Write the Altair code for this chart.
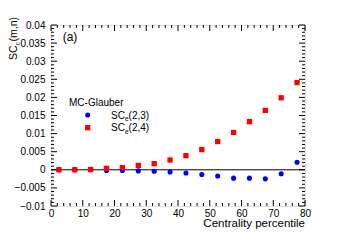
import altair as alt
import pandas as pd

# ---- data ----
cent = [2.5, 7.5, 12.5, 17.5, 22.5, 27.5, 32.5, 37.5, 42.5, 47.5, 52.5, 57.5, 62.5, 67.5, 72.5, 77.5]
sc23 = [0.0, 0.0, 0.0, -0.0002, -0.0002, -0.0003, -0.0004, -0.0006, -0.0009, -0.0013,
        -0.0017, -0.0023, -0.0023, -0.0025, -0.0011, 0.0021]
sc24 = [0.0, 0.0, 0.0001, 0.0004, 0.0006, 0.0012, 0.0017, 0.0027, 0.0039, 0.0056,
        0.0078, 0.0103, 0.0133, 0.0164, 0.0199, 0.0241]

x_major = [0, 10, 20, 30, 40, 50, 60, 70, 80]
x_minor = [v for v in range(0, 81, 2) if v % 10 != 0]
y_major = [-0.01, -0.005, 0.0, 0.005, 0.01, 0.015, 0.02, 0.025, 0.03, 0.035, 0.04]
y_minor = [round(i * 0.001, 3) for i in range(-10, 41) if i % 5 != 0]

W, H = 254, 181
FONT = "Liberation Sans"
BLUE = "#0000ff"
RED = "#ff0000"

xscale = alt.Scale(domain=[0, 80], nice=False, zero=False)
yscale = alt.Scale(domain=[-0.01, 0.04], nice=False, zero=False)

XAXIS = alt.Axis(values=x_major, ticks=False, domain=False, grid=False, title=None,
                 labelFontSize=10, labelPadding=2, labelFlush=False, labelColor="black",
                 labelFont=FONT)
YAXIS = alt.Axis(values=y_major, format=".3~f", ticks=False, domain=False, grid=False,
                 title=None, labelFontSize=10, labelPadding=6, labelFlush=False,
                 labelColor="black", labelBaseline="middle", labelFont=FONT)


def X(field):
    return alt.X(field, scale=xscale, axis=XAXIS)


def Y(field):
    return alt.Y(field, scale=yscale, axis=YAXIS)


df = pd.DataFrame({
    "cent": cent * 2,
    "val": sc23 + sc24,
    "series": ["SC(2,3)"] * len(cent) + ["SC(2,4)"] * len(cent),
})

zero_line = alt.Chart(pd.DataFrame({"val": [0.0]})).mark_rule(color="black", strokeWidth=1).encode(
    y=Y("val:Q")
)

pts23 = alt.Chart(df[df.series == "SC(2,3)"]).mark_point(
    shape="circle", filled=True, color=BLUE, size=26, opacity=1
).encode(x=X("cent:Q"), y=Y("val:Q"))

pts24 = alt.Chart(df[df.series == "SC(2,4)"]).mark_point(
    shape="square", filled=True, color=RED, size=28, opacity=1
).encode(x=X("cent:Q"), y=Y("val:Q"))


def xticks(vals, length):
    d = pd.DataFrame({"cent": vals})
    bot = alt.Chart(d).mark_rule(color="black", strokeWidth=1).encode(
        x=X("cent:Q"), y=alt.value(H), y2=alt.value(H - length))
    top = alt.Chart(d).mark_rule(color="black", strokeWidth=1).encode(
        x=X("cent:Q"), y=alt.value(0), y2=alt.value(length))
    return [bot, top]


def yticks(vals, length):
    d = pd.DataFrame({"val": vals})
    left = alt.Chart(d).mark_rule(color="black", strokeWidth=1).encode(
        y=Y("val:Q"), x=alt.value(0), x2=alt.value(length))
    right = alt.Chart(d).mark_rule(color="black", strokeWidth=1).encode(
        y=Y("val:Q"), x=alt.value(W), x2=alt.value(W - length))
    return [left, right]


def txt(s, x, y, size=10, align="left", baseline="middle", angle=0):
    return alt.Chart(pd.DataFrame({"t": [s]})).mark_text(
        align=align, baseline=baseline, fontSize=size, angle=angle, font=FONT, color="black"
    ).encode(text="t:N", x=alt.value(x), y=alt.value(y))


# legend
LX_SYM = 36.7
LX_TXT = 60
Y1, Y2 = 90, 102.7
legend = [
    txt("MC-Glauber", 18, 77.7, 10),
    alt.Chart(pd.DataFrame({"t": ["a"]})).mark_point(shape="circle", filled=True, color=BLUE,
                                                      size=26, opacity=1).encode(
        x=alt.value(LX_SYM), y=alt.value(Y1)),
    alt.Chart(pd.DataFrame({"t": ["a"]})).mark_point(shape="square", filled=True, color=RED,
                                                      size=28, opacity=1).encode(
        x=alt.value(LX_SYM), y=alt.value(Y2)),
    txt("SC", LX_TXT, Y1 + 3.6, 10, baseline="alphabetic"),
    txt("e", LX_TXT + 13.9, Y1 + 6, 6.5, baseline="alphabetic"),
    txt("(2,3)", LX_TXT + 17.6, Y1 + 3.6, 10, baseline="alphabetic"),
    txt("SC", LX_TXT, Y2 + 3.6, 10, baseline="alphabetic"),
    txt("e", LX_TXT + 13.9, Y2 + 6, 6.5, baseline="alphabetic"),
    txt("(2,4)", LX_TXT + 17.6, Y2 + 3.6, 10, baseline="alphabetic"),
]

# titles
YT_BASE = -34
YT_START = 35
ytitle = [
    txt("SC", YT_BASE, YT_START, 10.5, baseline="alphabetic", angle=270),
    txt("c", YT_BASE + 2.5, YT_START - 14.6, 7, baseline="alphabetic", angle=270),
    txt("(m,n)", YT_BASE, YT_START - 18.6, 10.5, baseline="alphabetic", angle=270),
]
xtitle = txt("Centrality percentile", W, 199, 11.5, align="right")
panel = txt("(a)", 11.7, 12, 12)

layers = [zero_line]
layers += xticks(x_major, 6) + xticks(x_minor, 3)
layers += yticks(y_major, 6) + yticks(y_minor, 3)
layers += [pts23, pts24] + legend + ytitle + [xtitle, panel]

chart = alt.layer(*layers).properties(
    width=W, height=H,
    autosize=alt.AutoSizeParams(type="none"),
    padding={"left": 43, "top": 17, "right": 26, "bottom": 29},
).configure_view(stroke="black", strokeWidth=1).configure(font=FONT)

chart.save("out.html", embed_options={"renderer": "svg", "actions": False})
